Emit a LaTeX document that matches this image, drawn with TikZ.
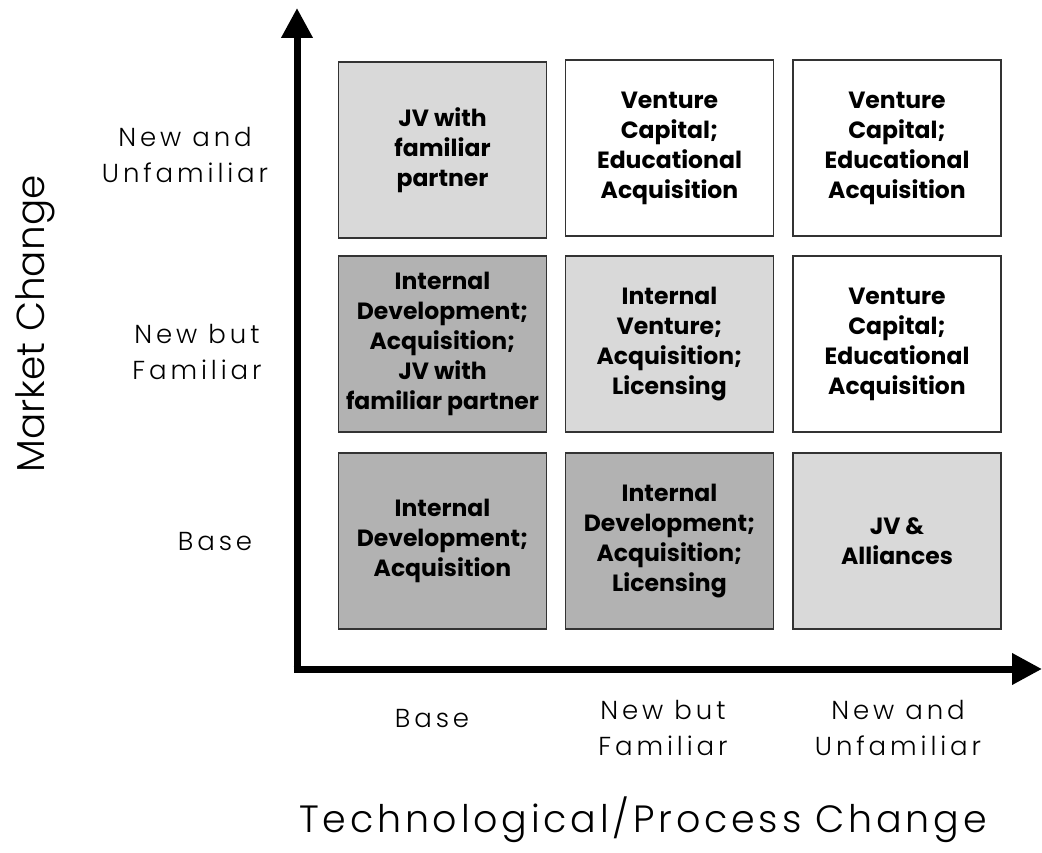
\documentclass[tikz,border=0pt]{standalone}
\usepackage{fontspec}
\setmainfont{Poppins}
\newfontfamily\axisfont[LetterSpace=15]{Poppins Light}
\newfontfamily\titlefont[LetterSpace=10]{Poppins Light}
\newfontfamily\thinfont{Poppins Light}
\usetikzlibrary{arrows.meta}
\definecolor{lightcell}{gray}{0.85}
\definecolor{darkcell}{gray}{0.70}
\definecolor{cellrim}{gray}{0.20}
\begin{document}
\begin{tikzpicture}[x=1pt,y=-1pt,
    cell/.style={draw=cellrim,line width=1.5pt,minimum width=208pt,minimum height=176pt,
      align=center,font=\fontsize{23.5}{30}\selectfont\bfseries,inner sep=0pt},
    light/.style={cell,fill=lightcell},
    dark/.style={cell,fill=darkcell},
    plain/.style={cell,fill=white},
    tick/.style={align=center,font=\axisfont\fontsize{26}{36}\selectfont},
    axis/.style={line width=7pt,-{Triangle[width=30pt,length=30pt]}}]
    \useasboundingbox (0,0) rectangle (1042,853);

    % axes
    \coordinate (origin) at (297,669);
    \coordinate (top) at (297,8);
    \coordinate (right) at (1042,669);
    \draw[axis] ([yshift=3.5pt]origin) -- (top);
    \draw[axis] ([xshift=-3.5pt]origin) -- (right);

    % top row
    \node[light] (jvpartner) at (442.5,150) {JV with\\familiar\\partner};
    \node[plain] (vcone) at (669.5,148) {Venture\\Capital;\\Educational\\Acquisition};
    \node[plain] (vctwo) at (897,148) {Venture\\Capital;\\Educational\\Acquisition};

    % middle row
    \node[dark] (internaljv) at (442.5,344) {Internal\\Development;\\Acquisition;\\JV with\\familiar partner};
    \node[light] (venture) at (669.5,344) {Internal\\Venture;\\Acquisition;\\Licensing};
    \node[plain] (vcthree) at (897,344) {Venture\\Capital;\\Educational\\Acquisition};

    % bottom row
    \node[dark] (internal) at (442.5,541) {Internal\\Development;\\Acquisition};
    \node[dark] (licensing) at (669.5,541) {Internal\\Development;\\Acquisition;\\Licensing};
    \node[light] (alliances) at (897,541) {JV \&\\Alliances};

    % market labels
    \node[tick] (mnew) at (185,155) {New and\\Unfamiliar};
    \node[tick] (mfam) at (197,352) {New but\\Familiar};
    \node[tick,anchor=base] (mbase) at (215,550) {Base};
    \node[font=\thinfont\fontsize{39}{47}\selectfont,rotate=90,anchor=base] (market) at (44,324) {Market Change};

    % technology labels
    \node[tick,anchor=base] (tbase) at (432,727) {Base};
    \node[tick] (tfam) at (663,728) {New but\\Familiar};
    \node[tick] (tnew) at (898,728) {New and\\Unfamiliar};
    \node[font=\titlefont\fontsize{38}{46}\selectfont,anchor=base] (tech) at (643,832) {Technological/Process Change};
\end{tikzpicture}
\end{document}
